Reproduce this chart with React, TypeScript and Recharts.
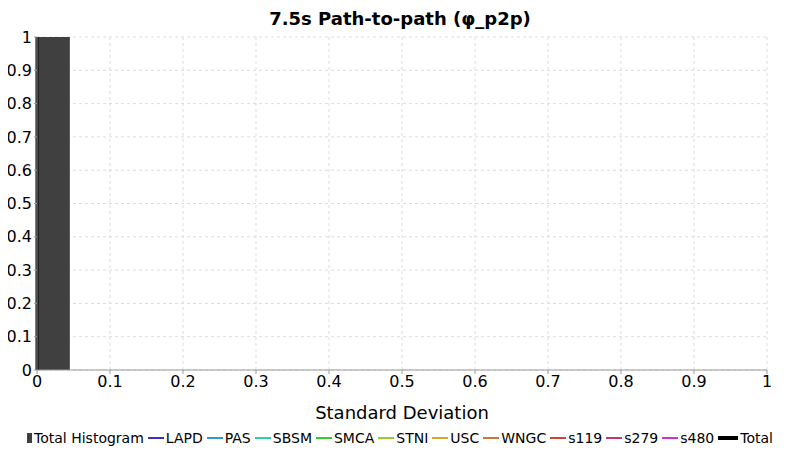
import { Area, CartesianGrid, ComposedChart, Line, XAxis, YAxis } from "recharts";

const histogram = [
  { x: 0, h: 1 },
  { x: 0.045, h: 0 },
];
const total = [
  { x: 0, t: 0 },
  { x: 0, t: 1 },
];
const ticks = [0, 0.1, 0.2, 0.3, 0.4, 0.5, 0.6, 0.7, 0.8, 0.9, 1];
const legendItems = [
  { name: "Total Histogram", color: "#404040", kind: "bar" },
  { name: "LAPD", color: "#3333cc", kind: "line" },
  { name: "PAS", color: "#3399cc", kind: "line" },
  { name: "SBSM", color: "#33ccaa", kind: "line" },
  { name: "SMCA", color: "#33cc33", kind: "line" },
  { name: "STNI", color: "#99cc33", kind: "line" },
  { name: "USC", color: "#ccaa33", kind: "line" },
  { name: "WNGC", color: "#cc7733", kind: "line" },
  { name: "s119", color: "#cc4433", kind: "line" },
  { name: "s279", color: "#cc3366", kind: "line" },
  { name: "s480", color: "#cc33cc", kind: "line" },
  { name: "Total", color: "#000000", kind: "total" },
];

const fmt = (v: number) => String(v);

export default function App() {
  return (
    <div style={{ position: "relative", width: 784, height: 442, fontFamily: "DejaVu Sans" }}>
      <div style={{ position: "absolute", top: 0, width: 784, textAlign: "center", fontWeight: "bold", fontSize: 18 }}>
        7.5s Path-to-path (φ_p2p)
      </div>
      <ComposedChart
        width={784}
        height={442}
        margin={{ top: 29, right: 25, left: 0, bottom: 30 }}
        style={{ overflow: "visible" }}
      >
        <CartesianGrid stroke="#dddddd" strokeDasharray="3 3" />
        <XAxis
          type="number"
          dataKey="x"
          domain={[0, 1]}
          ticks={ticks}
          tickFormatter={fmt}
          stroke="#999"
          tick={{ fill: "#000", fontSize: 16 }}
          tickSize={4}
          height={50}
          label={{ value: "Standard Deviation", position: "insideBottom", offset: 1, fill: "#000", fontSize: 18 }}
        />
        <YAxis
          type="number"
          domain={[0, 1]}
          ticks={ticks}
          tickFormatter={fmt}
          stroke="#999"
          tick={{ fill: "#000", fontSize: 16 }}
          tickSize={3}
          width={29}
        />
        <Area
          data={histogram}
          dataKey="h"
          type="stepAfter"
          fill="#404040"
          fillOpacity={1}
          stroke="none"
          isAnimationActive={false}
        />
        <Line
          data={total}
          dataKey="t"
          stroke="#000"
          strokeWidth={3}
          dot={false}
          isAnimationActive={false}
        />
      </ComposedChart>
      <div
        style={{
          position: "absolute",
          top: 422,
          left: 0,
          width: 784,
          display: "flex",
          justifyContent: "center",
          alignItems: "center",
          fontSize: 14,
          gap: 4,
          whiteSpace: "nowrap",
        }}
      >
        {legendItems.map((it) => (
          <span key={it.name} style={{ display: "inline-flex", alignItems: "center", gap: 2 }}>
            <span
              style={{
                display: "inline-block",
                background: it.color,
                width: it.kind === "bar" ? 5 : it.kind === "total" ? 20 : 16,
                height: it.kind === "bar" ? 10 : it.kind === "total" ? 4 : 2,
              }}
            />
            {it.name}
          </span>
        ))}
      </div>
    </div>
  );
}
